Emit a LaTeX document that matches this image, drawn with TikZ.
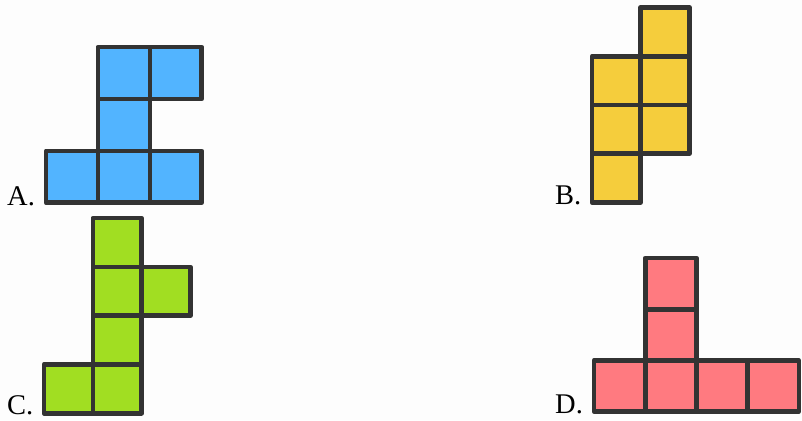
\documentclass[tikz,border=0pt]{standalone}
\usepackage{fontspec}
\setmainfont{Liberation Serif}
\definecolor{edge}{HTML}{333333}
\definecolor{cblue}{HTML}{52B4FF}
\definecolor{cyellow}{HTML}{F5CD3C}
\definecolor{cgreen}{HTML}{A1DE22}
\definecolor{cpink}{HTML}{FF7A80}
\definecolor{bg}{HTML}{FDFDFD}
\begin{document}
\begin{tikzpicture}[x=1pt,y=-1pt,
  cell/.style={draw=edge, line width=4.6pt, line join=round},
  lbl/.style={anchor=base west, inner sep=0pt, font=\fontsize{28.5}{28.5}\selectfont, text=black}]
\fill[bg] (0,0) rectangle (802,420);
\useasboundingbox (0,0) rectangle (802,420);
% A
\foreach \c/\r in {1/0,2/0,1/1,0/2,1/2,2/2}
  \filldraw[cell, fill=cblue] ({46+\c*51.9},{47+\r*51.9}) rectangle +(51.9,51.9);
% B
\foreach \c/\r in {1/0,0/1,1/1,0/2,1/2,0/3}
  \filldraw[cell, fill=cyellow] ({592+\c*48.7},{7.5+\r*48.7}) rectangle +(48.7,48.7);
% C
\foreach \c/\r in {1/0,1/1,2/1,1/2,0/3,1/3}
  \filldraw[cell, fill=cgreen] ({44+\c*48.8},{218+\r*48.8}) rectangle +(48.8,48.8);
% D
\foreach \c/\r in {1/0,1/1,0/2,1/2,2/2,3/2}
  \filldraw[cell, fill=cpink] ({594+\c*51.2},{258+\r*51.2}) rectangle +(51.2,51.2);
\node[lbl] (la) at (7,205) {A.};
\node[lbl] (lb) at (555,204) {B.};
\node[lbl] (lc) at (7,414) {C.};
\node[lbl] (ld) at (555,413) {D.};
\end{tikzpicture}
\end{document}
